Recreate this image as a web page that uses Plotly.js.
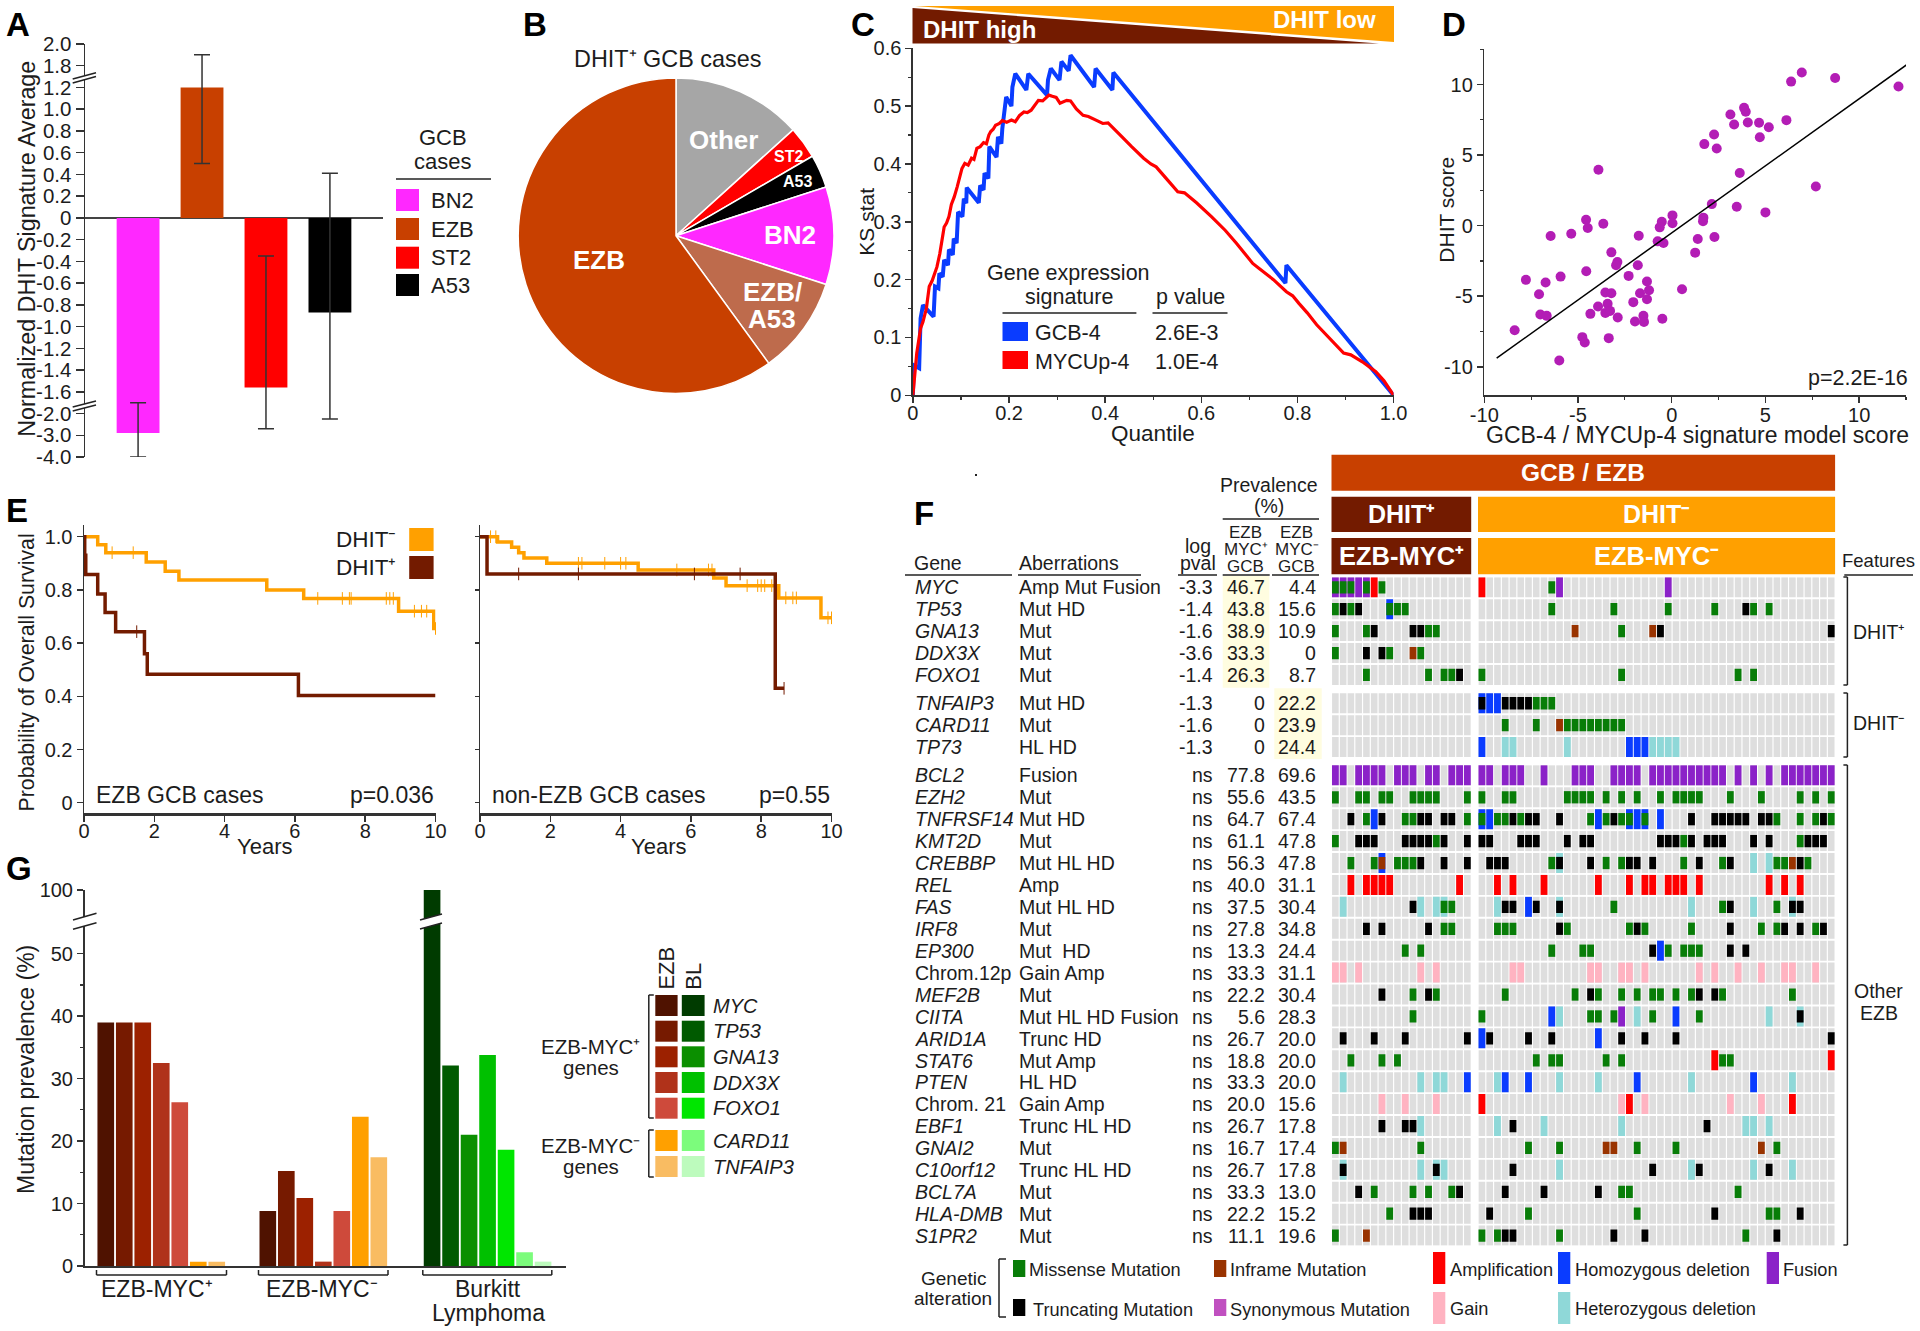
<!DOCTYPE html>
<html>
<head>
<meta charset="utf-8">
<script src="https://cdn.plot.ly/plotly-3.0.1.min.js"></script>
<style>html,body{margin:0;padding:0;background:#fff}</style>
</head>
<body>
<div id="plot" style="width:1920px;height:1331px"></div>
<script>
var W = 1920, H = 1331;
var FONT = '"Liberation Sans", Arial, sans-serif';
var INK = '#1c1c1c', BROWN = '#731b00', ORANGE = '#ffa000';
var SUP_PLUS = '\u207a', SUP_MINUS = '\u207b';

// panel A
var aCases = ['BN2', 'EZB', 'ST2', 'A53'];
var aColors = ['#ff28ff', '#c84000', '#ff0000', '#000000'];
var aValues = [-2.9, 1.2, -1.56, -0.87];
var aErrHigh = [-1.8, 1.9, -0.35, 0.41];
var aErrLow = [-4.0, 0.5, -2.7, -2.25];
var aTicks = [2, 1.8, 1.2, 1, 0.8, 0.6, 0.4, 0.2, 0, -0.2, -0.4, -0.6, -0.8, -1, -1.2, -1.4, -1.6, -2, -3, -4];
var aTickText = ['2.0', '1.8', '1.2', '1.0', '0.8', '0.6', '0.4', '0.2', '0', '-0.2', '-0.4', '-0.6', '-0.8', '-1.0', '-1.2', '-1.4', '-1.6', '-2.0', '-3.0', '-4.0'];

// panel B
var pieLabels = ['Other', 'ST2', 'A53', 'BN2', 'EZB/A53', 'EZB'];
var pieValues = [13.3, 3.3, 3.4, 10, 10, 60];
var pieColors = ['#a6a6a6', '#ff0000', '#000000', '#ff28ff', '#be6b4c', '#c84000'];

// panel C
var gcbX = [0, 0.002, 0.013, 0.016, 0.021, 0.043, 0.046, 0.053, 0.055, 0.062, 0.065, 0.073, 0.075, 0.083, 0.085, 0.091, 0.094, 0.103, 0.106, 0.111, 0.112, 0.137, 0.14, 0.147, 0.149, 0.157, 0.159, 0.174, 0.177, 0.184, 0.186, 0.192, 0.194, 0.205, 0.207, 0.213, 0.236, 0.24, 0.279, 0.281, 0.287, 0.305, 0.309, 0.324, 0.328, 0.377, 0.38, 0.415, 0.417, 0.775, 0.777, 1];
var gcbY = [0, 0.052, 0.047, 0.133, 0.156, 0.136, 0.188, 0.185, 0.211, 0.205, 0.234, 0.225, 0.252, 0.243, 0.271, 0.263, 0.317, 0.309, 0.34, 0.332, 0.359, 0.333, 0.363, 0.355, 0.384, 0.375, 0.43, 0.412, 0.447, 0.435, 0.461, 0.499, 0.516, 0.5, 0.533, 0.556, 0.528, 0.556, 0.519, 0.545, 0.565, 0.545, 0.577, 0.561, 0.588, 0.533, 0.565, 0.528, 0.558, 0.194, 0.225, 0];
var mycX = [0, 0.008, 0.016, 0.021, 0.028, 0.034, 0.04, 0.045, 0.05, 0.056, 0.06, 0.065, 0.07, 0.075, 0.08, 0.086, 0.092, 0.097, 0.102, 0.108, 0.115, 0.122, 0.127, 0.133, 0.14, 0.147, 0.153, 0.158, 0.162, 0.167, 0.172, 0.18, 0.186, 0.195, 0.205, 0.213, 0.222, 0.231, 0.238, 0.246, 0.254, 0.261, 0.27, 0.283, 0.29, 0.298, 0.306, 0.313, 0.32, 0.328, 0.34, 0.354, 0.365, 0.383, 0.395, 0.406, 0.42, 0.435, 0.455, 0.48, 0.495, 0.506, 0.53, 0.551, 0.565, 0.59, 0.621, 0.65, 0.673, 0.69, 0.707, 0.721, 0.75, 0.777, 0.79, 0.803, 0.82, 0.84, 0.87, 0.896, 0.911, 0.935, 0.963, 0.98, 1];
var mycY = [0, 0.073, 0.116, 0.127, 0.15, 0.188, 0.198, 0.211, 0.222, 0.245, 0.27, 0.291, 0.298, 0.309, 0.33, 0.343, 0.36, 0.378, 0.392, 0.401, 0.398, 0.41, 0.408, 0.427, 0.43, 0.437, 0.435, 0.45, 0.456, 0.46, 0.467, 0.47, 0.475, 0.472, 0.476, 0.473, 0.484, 0.49, 0.489, 0.493, 0.503, 0.51, 0.509, 0.519, 0.517, 0.515, 0.505, 0.507, 0.51, 0.509, 0.495, 0.484, 0.482, 0.475, 0.47, 0.471, 0.46, 0.447, 0.43, 0.41, 0.4, 0.395, 0.372, 0.352, 0.35, 0.333, 0.309, 0.285, 0.263, 0.245, 0.228, 0.219, 0.2, 0.179, 0.172, 0.159, 0.143, 0.122, 0.095, 0.073, 0.07, 0.058, 0.041, 0.025, 0];

// panel D
var dhitModel = [12.1, 8.72, 6.94, 6.37, 6.12, 5.18, 4.7, 4.66, 4.06, 3.95, 3.86, 3.33, 3.13, 2.26, 2.4, 1.74, 7.69, 3.63, 3.47, 5, 2.14, 1.69, 1.67, 2.28, 1.39, 1.25, 0.04, 0.04, -0.53, -0.64, -0.75, -0.44, -1.76, 0.55, -0.5, -1.32, -1.21, -1.32, -1.69, -2.05, -1.81, -2.3, -1.51, -1.48, -1.96, -2.88, -3.22, -2.9, -2.97, -3.65, -3.91, -4.48, -4.57, -5.36, -6.46, -4.56, -5.93, -7.78, -6.73, -7.08, -7.01, -6.67, -8.38, -3.54, -3.22, -3.42, -3.93, -3.54, -3.29, -4.34, -4.77, -4.64, -3.36, -6];
var dhitScore = [9.86, 10.47, 10.85, 10.21, 7.48, 6.98, 6.27, 7.29, 7.31, 8.07, 8.35, 7.17, 7.88, 6.46, 5.47, 5.78, 2.78, 3.73, 1.34, 0.94, 1.53, 0.57, 0.31, -0.8, -0.94, -1.91, 0.73, 0.17, 0.28, -0.12, -1.11, -1.23, -0.71, -4.5, -6.6, -3.96, -4.58, -5.21, -4.79, -5.42, -2.81, -3.56, -6.39, -6.82, -6.79, -6.51, -1.89, -2.57, -2.81, 0.14, 3.96, -0.17, 0.42, -0.57, -0.73, -3.23, -3.61, -3.84, -4.03, -4.86, -6.3, -6.39, -7.41, -4.74, -4.79, -5.54, -5.73, -6.18, -6.04, -6.25, -7.9, -8.28, -7.97, -9.55];
var fitX = [-9.34, 12.94];
var fitY = [-9.39, 11.79];

// panel E
var ezbNegT = [0, 0.39, 0.62, 1.77, 2.31, 2.7, 5.2, 6.25, 8.95, 9.95, 10];
var ezbNegS = [1, 0.97, 0.94, 0.905, 0.87, 0.837, 0.8, 0.768, 0.72, 0.655, 0.655];
var ezbNegCensT = [0.8, 1.4, 6.65, 7.35, 7.55, 7.6, 8.6, 8.7, 8.8, 9.4, 9.6, 9.75, 10];
var ezbNegCensS = [0.94, 0.94, 0.768, 0.768, 0.768, 0.768, 0.768, 0.768, 0.768, 0.72, 0.72, 0.72, 0.655];
var ezbPosT = [0, 0.02, 0.05, 0.39, 0.6, 0.9, 1.72, 1.75, 1.8, 6.1, 10];
var ezbPosS = [1, 0.93, 0.858, 0.785, 0.715, 0.643, 0.56, 0.56, 0.483, 0.403, 0.403];
var ezbPosCensT = [1.5];
var ezbPosCensS = [0.643];
var nonNegT = [0, 0.5, 0.9, 1.1, 1.25, 1.9, 4.5, 6.65, 7, 8.5, 9.7, 10];
var nonNegS = [1, 0.98, 0.96, 0.94, 0.92, 0.9, 0.875, 0.845, 0.816, 0.77, 0.695, 0.695];
var nonNegCensT = [0.3, 0.45, 2.8, 2.9, 3.55, 4, 4.15, 5.6, 6.5, 6.6, 7.6, 7.9, 8, 8.1, 8.3, 8.7, 8.9, 9, 9.9, 10];
var nonNegCensS = [1, 1, 0.9, 0.9, 0.9, 0.9, 0.9, 0.875, 0.875, 0.875, 0.816, 0.816, 0.816, 0.816, 0.816, 0.77, 0.77, 0.77, 0.695, 0.695];
var nonPosT = [0, 0.2, 8.4, 8.65];
var nonPosS = [1, 0.86, 0.43, 0.43];
var nonPosCensT = [1.1, 2.8, 6.1, 7.4, 8.65];
var nonPosCensS = [0.86, 0.86, 0.86, 0.86, 0.43];

// panel G
var gGenes = ['MYC', 'TP53', 'GNA13', 'DDX3X', 'FOXO1', 'CARD11', 'TNFAIP3'];
var gEzbColors = ['#4f1200', '#761a00', '#9c2100', '#b0321a', '#ce4a3b', '#ffa000', '#f9bc62'];
var gBlColors = ['#003b00', '#005a00', '#0b8f00', '#00c000', '#00e600', '#7cfc7c', '#bdfbbd'];
var gMycPlus = [39, 39, 39, 32.5, 26.2, 0.7, 0.7];
var gMycMinus = [8.8, 15.2, 10.9, 0.7, 8.8, 23.9, 17.4];
var gBurkitt = [100, 32.1, 21, 33.8, 18.6, 2.2, 0.7];

// panel F table
var genes = ['MYC', 'TP53', 'GNA13', 'DDX3X', 'FOXO1', 'TNFAIP3', 'CARD11', 'TP73', 'BCL2', 'EZH2', 'TNFRSF14', 'KMT2D', 'CREBBP', 'REL', 'FAS', 'IRF8', 'EP300', 'Chrom.12p', 'MEF2B', 'CIITA', 'ARID1A', 'STAT6', 'PTEN', 'Chrom. 21', 'EBF1', 'GNAI2', 'C10orf12', 'BCL7A', 'HLA-DMB', 'S1PR2'];
var aberrations = ['Amp Mut Fusion', 'Mut HD', 'Mut', 'Mut', 'Mut', 'Mut HD', 'Mut', 'HL HD', 'Fusion', 'Mut', 'Mut HD', 'Mut', 'Mut HL HD', 'Amp', 'Mut HL HD', 'Mut', 'Mut\u00a0 HD', 'Gain Amp', 'Mut', 'Mut HL HD Fusion', 'Trunc HD', 'Mut Amp', 'HL HD', 'Gain Amp', 'Trunc HL HD', 'Mut', 'Trunc HL HD', 'Mut', 'Mut', 'Mut'];
var logPval = ['-3.3', '-1.4', '-1.6', '-3.6', '-1.4', '-1.3', '-1.6', '-1.3', 'ns', 'ns', 'ns', 'ns', 'ns', 'ns', 'ns', 'ns', 'ns', 'ns', 'ns', 'ns', 'ns', 'ns', 'ns', 'ns', 'ns', 'ns', 'ns', 'ns', 'ns', 'ns'];
var prevPlus = ['46.7', '43.8', '38.9', '33.3', '26.3', '0', '0', '0', '77.8', '55.6', '64.7', '61.1', '56.3', '40.0', '37.5', '27.8', '13.3', '33.3', '22.2', '5.6', '26.7', '18.8', '33.3', '20.0', '26.7', '16.7', '26.7', '33.3', '22.2', '11.1'];
var prevMinus = ['4.4', '15.6', '10.9', '0', '8.7', '22.2', '23.9', '24.4', '69.6', '43.5', '67.4', '47.8', '47.8', '31.1', '30.4', '34.8', '24.4', '31.1', '30.4', '28.3', '20.0', '20.0', '20.0', '15.6', '17.8', '17.4', '17.8', '13.0', '15.2', '19.6'];

// oncoprint calls: letter = alteration type, numbers = patient columns of that group
var callsMycPlus = ['F0-4 m0-2,4 A5 m6', 'm0,2,7-9 t1,3 H7', 'm0,4,12,13 t5,10,11', 'm0,7,11 t4,6 i10', 'm4,12,14,15 t16', '', '', '', 'F0,1,3-6,8-10,12,13,15-17', 'm0,3,4,6,7,10-13,17', 't2,6,11,12,14,15 m4,9,10,17 H5', 'm0,13 t3-5,9-12,14,17', 'm2,5,8-10 H6 i6 t11,14,17', 'A2,4-7,16', 'L1,11,13,14 t10 m14,15', 't4,6,12 m14,15', 'm9,11', 'G0,1,3,11,13', 't6,12 m10,13', 'm10', 't1,5,9,17', 'm2,6,8', 'L1,11,13,14 H17', 'G6,9,13', 't6,9,10 L11', 'm0,11 i1', 'L1,11,13,14 t1,13', 't3,16 m5,10,12,15', 'm7 t10-12', 'm0 i4'];
var callsMycMinus = ['A0 m9 F10,24', 'm9,17,24,30,35,37 t34', 'i12,22 m18 t23,45', '', 'm0,18,33,35', 'H0-2 t0,3-6 m7-9', 'm3,7,11-18 i10', 'H0,19-21 L3,4,11,22-25', 'F0,1,3-5,8,12-14,17-20,22-31,33,35,37,39-45', 'm0,3,4,11-14,16,18,20,23,25-28,32,36,41,43,45', 'H0,1,15,19,20,21,23 m0,2,3,5,14,16,18,19,21,38,41,43,45 t4,6,7,10,17,27,30-34,36,37,44', 't0,1,5-7,11,13,14,23-25,27,29-31,35,37,42-44 m26,41', 't1-3,10,14,19,20,22,28,32,41 m9,16,18,26,31,38,39,42 L10,35,37 i40', 'A2,4,8,15,19,21,22,24-26,28,37,39,41', 'L2,10,27,35,40 t3,4,7,10,32,40,41 H6 m17,31,38', 'm2-4,11,19,21,27,36,38,43 t10,20,32,39,41,44', 'm9,13,14,24,26-28 t22,32,34 H23', 'G4,5,14,15,18,19,21,28,30,33,36,39,40,43', 'm3,12,15,18,20,22,23,25,27,31,40 t14,28,30', 'm0,14,15,17,22,28 H9,25 L10,20,37,41 F18 t41', 'H0,15 t1,6,9,18,21,25,45', 'm7,9,10,16,18,31,32 A30,45', 'L2,10,15,27,40 H3,6,20,35', 'A0,19,40 G18,21,32,36', 'L2,8,18,34,35,37 t4,29', 'm6,10,20,25,38 i16,17,36', 't4,22,28,37 L10,27,35,40', 't3,8,15 m18,19,33', 't1,30,41 m6,20,37,38', 'm0,2,10,34 t3,4,17,21,38'];
var altNames = {m: 'Missense Mutation', i: 'Inframe Mutation', t: 'Truncating Mutation', s: 'Synonymous Mutation', A: 'Amplification', G: 'Gain', H: 'Homozygous deletion', L: 'Heterozygous deletion', F: 'Fusion'};
var altColors = {m: '#087d08', i: '#993300', t: '#000000', s: '#c050c0', A: '#ff0000', G: '#ffb3c1', H: '#0a3cff', L: '#8fd8d8', F: '#8b22c8'};

// helpers
function px(x) { return x / W; }
function py(y) { return 1 - y / H; }
function dx(a, b) { return [a / W, b / W]; }
function dy(top, bottom) { return [1 - bottom / H, 1 - top / H]; }

var annotations = [], shapes = [];
function note(x, y, text, size, anchor, extra) {
    annotations.push(Object.assign({
        xref: 'paper', yref: 'paper', x: px(x), y: py(y), text: text, showarrow: false,
        xanchor: anchor || 'center', yanchor: 'middle', borderpad: 0,
        font: {family: FONT, size: size || 20, color: INK}
    }, extra || {}));
}
function white(x, y, text, size, anchor) {
    note(x, y, '<b>' + text + '</b>', size, anchor, {font: {family: FONT, size: size, color: '#fff'}});
}
function rect(x0, y0, x1, y1, color, layer) {
    shapes.push({type: 'rect', xref: 'paper', yref: 'paper', x0: px(x0), x1: px(x1), y0: py(y0), y1: py(y1),
        fillcolor: color, line: {width: 0}, layer: layer || 'above'});
}
function seg(x0, y0, x1, y1, color, width) {
    shapes.push({type: 'line', xref: 'paper', yref: 'paper', x0: px(x0), x1: px(x1), y0: py(y0), y1: py(y1),
        line: {color: color || '#222', width: width || 1.5}, layer: 'above'});
}
function poly(points, color) {
    var path = points.map(function(p, i) { return (i ? 'L' : 'M') + px(p[0]) + ',' + py(p[1]); }).join(' ') + ' Z';
    shapes.push({type: 'path', xref: 'paper', yref: 'paper', path: path, fillcolor: color, line: {width: 0}, layer: 'above'});
}
function bracket(x, y0, y1, tick) {
    seg(x, y0, x, y1);
    seg(x, y0, x + tick, y0);
    seg(x, y1, x + tick, y1);
}
// white gap with two slanted strokes, used for the broken axes and the broken bar
function axisBreak(x0, x1, upper0, upper1, lower0, lower1) {
    poly([[x0, upper0], [x1, upper1], [x1, lower1], [x0, lower0]], '#ffffff');
    seg(x0, upper0, x1, upper1, '#222', 1.5);
    seg(x0, lower0, x1, lower1, '#222', 1.5);
}
function axis(domain, extra) {
    return Object.assign({
        domain: domain, showgrid: false, zeroline: false, showline: true, linecolor: '#333', linewidth: 1.5,
        ticks: 'outside', tickcolor: '#333', tickwidth: 1.5, ticklen: 6, tickmode: 'array',
        tickfont: {family: FONT, size: 20, color: INK}
    }, extra);
}
function minorTicks(vals, len) {
    return {tickmode: 'array', tickvals: vals, ticks: 'outside', ticklen: len || 3, tickcolor: '#333', tickwidth: 1.2};
}

// piecewise scale for panel A's broken axis
function scaleA(v) {
    if (v >= 1.8) return v - 0.4;
    if (v >= 1.2) return 1.2 + (v - 1.2) / 3;
    if (v >= -1.6) return v;
    if (v >= -2) return -1.6 + (v + 1.6) * 0.5;
    return -1.8 + (v + 2) * 0.2;
}
// panel G's broken axis
function scaleG(v) { return v <= 55 ? v : 55 + (v - 55) * 0.1156; }

var traces = [];

// A
traces.push({
    type: 'bar', xaxis: 'x', yaxis: 'y', x: [0, 1, 2, 3], y: aValues.map(scaleA), width: 0.67, text: aCases, textposition: 'none',
    marker: {color: aColors},
    error_y: {
        type: 'data', symmetric: false, thickness: 1.5, width: 8, color: '#333',
        array: aErrHigh.map(function(v, i) { return scaleA(v) - scaleA(aValues[i]); }),
        arrayminus: aErrLow.map(function(v, i) { return scaleA(aValues[i]) - scaleA(v); })
    }
});

// B
var pieCx = 676, pieCy = 235.7, pieR = 157.8;
traces.push({
    type: 'pie', labels: pieLabels, values: pieValues, sort: false, direction: 'clockwise', rotation: 0,
    textinfo: 'none', marker: {colors: pieColors, line: {color: '#fff', width: 1.5}},
    domain: {x: dx(pieCx - pieR, pieCx + pieR), y: dy(pieCy - pieR, pieCy + pieR)}
});

// C
traces.push({type: 'scatter', mode: 'lines', xaxis: 'x2', yaxis: 'y2', x: gcbX, y: gcbY, line: {color: '#0a3cff', width: 4}, cliponaxis: false});
traces.push({type: 'scatter', mode: 'lines', xaxis: 'x2', yaxis: 'y2', x: mycX, y: mycY, line: {color: '#ff0000', width: 3.2}, cliponaxis: false});

// D
traces.push({type: 'scatter', mode: 'markers', xaxis: 'x3', yaxis: 'y3', x: dhitModel, y: dhitScore, marker: {color: '#b31db5', size: 10}});
traces.push({type: 'scatter', mode: 'lines', xaxis: 'x3', yaxis: 'y3', x: fitX, y: fitY, line: {color: '#000', width: 1.5}});

// E
function survival(xa, ya, t, s, ct, cs, color) {
    traces.push({type: 'scatter', mode: 'lines', xaxis: xa, yaxis: ya, x: t, y: s, line: {color: color, width: 3.5, shape: 'hv'}, cliponaxis: false});
    traces.push({type: 'scatter', mode: 'markers', xaxis: xa, yaxis: ya, x: ct, y: cs, cliponaxis: false,
        marker: {symbol: 'line-ns', size: 9, color: color, line: {color: color, width: 1}}});
}
survival('x4', 'y4', ezbNegT, ezbNegS, ezbNegCensT, ezbNegCensS, ORANGE);
survival('x4', 'y4', ezbPosT, ezbPosS, ezbPosCensT, ezbPosCensS, BROWN);
survival('x5', 'y5', nonNegT, nonNegS, nonNegCensT, nonNegCensS, ORANGE);
survival('x5', 'y5', nonPosT, nonPosS, nonPosCensT, nonPosCensS, BROWN);

// G
var gGroups = [gMycPlus, gMycMinus, gBurkitt];
var gOffsets = [0, 8.76, 17.64];
var gX = [], gY = [], gC = [];
gGroups.forEach(function(group, g) {
    group.forEach(function(v, j) {
        gX.push(gOffsets[g] + j);
        gY.push(scaleG(v));
        gC.push(g === 2 ? gBlColors[j] : gEzbColors[j]);
    });
});
traces.push({type: 'bar', xaxis: 'x6', yaxis: 'y6', x: gX, y: gY, width: 0.9, marker: {color: gC}});

// F oncoprint, each cell a bar with its own base
var ROW_STEP = 21.93, ROW_TOP = 587.3;
function rowPos(i) { return i < 5 ? i : (i < 8 ? i + 0.29 : i + 0.58); }
function rowCenter(i) { return ROW_TOP + rowPos(i) * ROW_STEP; }
function parseCalls(spec, offset) {
    var out = [];
    spec.split(' ').forEach(function(tok) {
        if (!tok) return;
        var kind = tok[0];
        tok.slice(1).split(',').forEach(function(part) {
            var ends = part.split('-').map(Number);
            for (var c = ends[0]; c <= ends[ends.length - 1]; c++) out.push({kind: kind, col: c + offset});
        });
    });
    return out;
}
var RIGHT_OFFSET = 18.88;
var grayX = [], grayBase = [], grayH = [];
genes.forEach(function(g, i) {
    for (var c = 0; c < 64; c++) {
        grayX.push((c < 18 ? c : RIGHT_OFFSET + c - 18) + 0.5);
        grayBase.push(rowPos(i) - 0.456);
        grayH.push(0.912);
    }
});
traces.push({type: 'bar', xaxis: 'x7', yaxis: 'y7', x: grayX, y: grayH, base: grayBase, width: 0.85, marker: {color: '#dedede'}, hoverinfo: 'skip'});
var altOrder = ['F', 'A', 'G', 'L', 'H', 'm', 'i', 's', 't'];
altOrder.forEach(function(kind) {
    var tall = 'FAGLH'.indexOf(kind) >= 0;
    var hh = tall ? 0.912 : 0.56;
    var xs = [], bases = [], hs = [];
    genes.forEach(function(g, i) {
        parseCalls(callsMycPlus[i], 0).concat(parseCalls(callsMycMinus[i], RIGHT_OFFSET)).forEach(function(call) {
            if (call.kind !== kind) return;
            xs.push(call.col + 0.5);
            bases.push(rowPos(i) - hh / 2);
            hs.push(hh);
        });
    });
    traces.push({type: 'bar', name: altNames[kind], xaxis: 'x7', yaxis: 'y7', x: xs, y: hs, base: bases, width: 0.88, marker: {color: altColors[kind]}});
});

// panel letters
[['A', 5, 25], ['B', 522, 25], ['C', 850, 25], ['D', 1441, 25], ['E', 5, 511], ['F', 913, 513], ['G', 5, 868]].forEach(function(l) {
    note(l[1], l[2], '<b>' + l[0] + '</b>', 33, 'left', {font: {family: FONT, size: 33, color: '#000'}});
});

// A text
note(26.7, 249, 'Normalized DHIT Signature Average', 23.3, 'center', {textangle: -90});
note(442.7, 138, 'GCB', 22);
note(442.7, 161, 'cases', 22);
seg(396, 179, 491, 179, '#222', 1.5);
var aLegendY = [189, 218, 246.7, 274];
aCases.forEach(function(c, i) {
    rect(396, aLegendY[i], 419, aLegendY[i] + 22, aColors[i]);
    note(430, aLegendY[i] + 11, c, 22, 'left');
});
axisBreak(72.7, 96, 79, 72.7, 83, 76.5);
axisBreak(72.7, 96, 407, 401, 411, 405);

// B text
note(667, 59, 'DHIT' + SUP_PLUS + ' GCB cases', 23.4);
white(723, 140, 'Other', 26);
white(788, 156, 'ST2', 16);
white(797, 182, 'A53', 16);
white(790, 235, 'BN2', 26);
white(772, 292, 'EZB/', 26);
white(772, 319, 'A53', 26);
white(599, 260, 'EZB', 26);

// C text
poly([[915, 6], [1394, 6], [1394, 42]], ORANGE);
poly([[912.5, 8], [1379, 43.5], [912.5, 43.5]], BROWN);
white(922, 30, 'DHIT high', 24, 'left');
white(1377, 20, 'DHIT low', 24, 'right');
note(865.7, 222, 'KS stat', 21, 'center', {textangle: -90});
note(1153, 434, 'Quantile', 22.5);
note(1068.6, 273, 'Gene expression', 21.5);
note(1068.6, 297, 'signature', 21.5);
note(1190, 297, 'p value', 21.5);
seg(1002.5, 313, 1136.4, 313);
seg(1152.5, 313, 1227.5, 313);
rect(1002.5, 322, 1028, 341, '#0a3cff');
rect(1002.5, 351, 1028, 369, '#ff0000');
note(1034, 333, 'GCB-4', 21.5, 'left');
note(1034, 362, 'MYCUp-4', 21.5, 'left');
note(1154, 333, '2.6E-3', 21.5, 'left');
note(1154, 362, '1.0E-4', 21.5, 'left');

// D text
note(1446.7, 210, 'DHIT score', 21, 'center', {textangle: -90});
note(1697.7, 435, 'GCB-4 / MYCUp-4 signature model score', 23);
note(1909, 378, 'p=2.2E-16', 21.5, 'right');

// E text
note(26, 672.5, 'Probability of Overall Survival', 21.3, 'center', {textangle: -90});
note(398, 540, 'DHIT' + SUP_MINUS, 22.5, 'right');
note(398, 567, 'DHIT' + SUP_PLUS, 22.5, 'right');
rect(409.2, 528, 433.6, 551, ORANGE);
rect(409.2, 556, 433.6, 579, BROWN);
note(94.8, 795, 'EZB GCB cases', 23, 'left');
note(435, 795, 'p=0.036', 23, 'right');
note(490.5, 795, 'non-EZB GCB cases', 23, 'left');
note(831, 795, 'p=0.55', 23, 'right');
note(264, 846, 'Years', 22);
note(658.5, 846, 'Years', 22);

// G text
note(26, 1070, 'Mutation prevalence (%)', 23, 'center', {textangle: -90});
axisBreak(73, 96.5, 920, 913.3, 929.3, 922.7);
axisBreak(420, 442, 920, 914, 929, 923);
[[96.5, 226.5], [258.5, 388], [422.8, 551.8]].forEach(function(b) {
    seg(b[0], 1275, b[1], 1275);
    seg(b[0], 1270, b[0], 1275);
    seg(b[1], 1270, b[1], 1275);
});
note(157, 1289, 'EZB-MYC' + SUP_PLUS, 23);
note(322, 1289, 'EZB-MYC' + SUP_MINUS, 23);
note(488, 1289, 'Burkitt', 23);
note(488, 1313, 'Lymphoma', 23);
note(665.6, 968, 'EZB', 22, 'center', {textangle: -90});
note(692.7, 976, 'BL', 22, 'center', {textangle: -90});
var gLegendY = [995, 1020.7, 1046.3, 1072, 1097.7, 1130, 1156];
gGenes.forEach(function(g, i) {
    rect(655.3, gLegendY[i], 677.6, gLegendY[i] + 21, gEzbColors[i]);
    rect(681.8, gLegendY[i], 704.6, gLegendY[i] + 21, gBlColors[i]);
    note(711.6, gLegendY[i] + 10.5, '<i>' + g + '</i>', 20, 'left');
});
bracket(648.8, 995, 1118, 5);
bracket(648.8, 1130, 1177, 5);
note(590.8, 1046, 'EZB-MYC' + SUP_PLUS, 20.5);
note(590.8, 1067, 'genes', 20.5);
note(590.8, 1145, 'EZB-MYC' + SUP_MINUS, 20.5);
note(590.8, 1166, 'genes', 20.5);

// F headers and table
rect(975, 474, 977, 476, '#222');
rect(1331.5, 454.7, 1835.1, 490.7, '#c84000');
rect(1331.5, 496.7, 1471.2, 532, BROWN);
rect(1478, 496.7, 1835.1, 532, ORANGE);
rect(1331.5, 538, 1471.2, 574.3, BROWN);
rect(1478, 538, 1835.1, 574.3, ORANGE);
white(1583, 473, 'GCB / EZB', 24.5);
white(1401, 514, 'DHIT' + SUP_PLUS, 25);
white(1656, 514, 'DHIT' + SUP_MINUS, 25);
white(1401, 556, 'EZB-MYC' + SUP_PLUS, 25.5);
white(1656, 556, 'EZB-MYC' + SUP_MINUS, 25.5);
rect(1222.7, 576, 1269.3, 687.7, '#fffde0', 'below');
rect(1274.3, 688.3, 1321.7, 759, '#fffde0', 'below');
note(913, 562.7, 'Gene', 19.5, 'left');
note(1018, 562.7, 'Aberrations', 19.5, 'left');
note(1198, 546, 'log', 19.5);
note(1198, 563, 'pval', 19.5);
note(1269, 485, 'Prevalence', 19.5);
note(1269, 506, '(%)', 19.5);
note(1245.7, 532.7, 'EZB', 17);
note(1245.7, 549, 'MYC' + SUP_PLUS, 17);
note(1245.7, 566, 'GCB', 17);
note(1296.7, 532.7, 'EZB', 17);
note(1296.7, 549, 'MYC' + SUP_MINUS, 17);
note(1296.7, 566, 'GCB', 17);
seg(1222.7, 519, 1319, 519);
seg(905, 575, 1012, 575);
seg(1018, 575, 1141, 575);
seg(1178, 575, 1217, 575);
seg(1222.7, 575, 1269.7, 575);
seg(1272, 575, 1319, 575);
genes.forEach(function(g, i) {
    var y = rowCenter(i);
    note(913.5, y, g.indexOf('Chrom') === 0 ? g : '<i>' + g + '</i>', 19.5, 'left');
    note(1018, y, aberrations[i], 19.5, 'left');
    note(1214, y, logPval[i], 19.5, 'right');
    note(1266, y, prevPlus[i], 19.5, 'right');
    note(1316.7, y, prevMinus[i], 19.5, 'right');
});
note(1878, 561, 'Features', 18.5);
seg(1844.3, 575, 1913, 575);
function featureBracket(y0, y1) {
    seg(1847.4, y0, 1847.4, y1);
    seg(1843.4, y0, 1847.4, y0);
    seg(1843.4, y1, 1847.4, y1);
}
featureBracket(577, 685);
featureBracket(693, 757);
featureBracket(765, 1245);
note(1852, 632, 'DHIT' + SUP_PLUS, 19.5, 'left');
note(1852, 723, 'DHIT' + SUP_MINUS, 19.5, 'left');
note(1878.7, 991, 'Other', 19.5);
note(1878.7, 1013, 'EZB', 19.5);

// F alteration key
note(953, 1278, 'Genetic', 19);
note(953, 1298, 'alteration', 19);
bracket(999, 1259, 1317, 7);
[['m', 1013, 1260, 1277, 1028, 1270], ['t', 1013, 1299, 1316, 1032, 1310], ['i', 1214, 1260, 1277, 1229, 1270], ['s', 1214, 1299, 1316, 1229, 1310],
 ['A', 1433, 1252, 1284, 1449, 1270], ['G', 1433, 1292, 1324, 1449, 1309], ['H', 1558, 1252, 1284, 1573.7, 1270], ['L', 1558, 1292, 1324, 1573.7, 1309], ['F', 1766.7, 1252, 1284, 1782, 1270]].forEach(function(k) {
    rect(k[1], k[2], k[1] + 12.3, k[3], altColors[k[0]]);
    note(k[4], k[5], altNames[k[0]], 18.2, 'left');
});

var layout = {
    width: W, height: H, margin: {l: 0, r: 0, t: 0, b: 0}, showlegend: false, barmode: 'overlay',
    paper_bgcolor: '#fff', plot_bgcolor: 'rgba(0,0,0,0)', font: {family: FONT, color: INK},
    annotations: annotations, shapes: shapes,

    xaxis: {domain: dx(85, 383), range: [-0.83, 3.83], visible: false, anchor: 'y'},
    yaxis: axis(dy(44, 457), {anchor: 'x', range: [scaleA(-4), scaleA(2)], tickvals: aTicks.map(scaleA), ticktext: aTickText, ticklen: 8,
        zeroline: true, zerolinecolor: '#444', zerolinewidth: 2, tickfont: {family: FONT, size: 20.5, color: INK}}),

    xaxis2: axis(dx(912.9, 1393.6), {anchor: 'y2', range: [0, 1], tickvals: [0, 0.2, 0.4, 0.6, 0.8, 1], ticktext: ['0', '0.2', '0.4', '0.6', '0.8', '1.0'],
        ticklabelstandoff: -7, minor: minorTicks([0.1, 0.3, 0.5, 0.7, 0.9])}),
    yaxis2: axis(dy(48.3, 395.3), {anchor: 'x2', range: [0, 0.6], tickvals: [0, 0.1, 0.2, 0.3, 0.4, 0.5, 0.6], ticktext: ['0', '0.1', '0.2', '0.3', '0.4', '0.5', '0.6'],
        minor: minorTicks([0.05, 0.15, 0.25, 0.35, 0.45, 0.55])}),

    xaxis3: axis(dx(1484.3, 1906), {anchor: 'y3', range: [-10, 12.5], tickvals: [-10, -5, 0, 5, 10], ticktext: ['-10', '-5', '0', '5', '10'],
        ticklabelstandoff: -5, minor: minorTicks([-7.5, -2.5, 2.5, 7.5, 12.5])}),
    yaxis3: axis(dy(49.3, 395), {anchor: 'x3', range: [-12, 12.5], tickvals: [-10, -5, 0, 5, 10], ticktext: ['-10', '-5', '0', '5', '10'],
        minor: minorTicks([-7.5, -2.5, 2.5, 7.5, 12.5])}),

    xaxis4: axis(dx(84, 435.5), {anchor: 'y4', range: [0, 10], tickvals: [0, 2, 4, 6, 8, 10], linewidth: 3, ticklabelstandoff: -8}),
    yaxis4: axis(dy(525, 812.7), {anchor: 'x4', range: [-0.0376, 1.044], tickvals: [0, 0.2, 0.4, 0.6, 0.8, 1], ticktext: ['0', '0.2', '0.4', '0.6', '0.8', '1.0']}),
    xaxis5: axis(dx(480, 831.5), {anchor: 'y5', range: [0, 10], tickvals: [0, 2, 4, 6, 8, 10], linewidth: 3, ticklabelstandoff: -8}),
    yaxis5: axis(dy(525, 812.7), {anchor: 'x5', range: [-0.0376, 1.044], tickvals: [0, 0.2, 0.4, 0.6, 0.8, 1], showticklabels: false, ticklen: 4}),

    xaxis6: axis(dx(84.5, 566), {anchor: 'y6', range: [-1.15, 24.88], ticks: '', showticklabels: false, linewidth: 2}),
    yaxis6: axis(dy(890, 1266), {anchor: 'x6', range: [0, scaleG(100)], tickvals: [0, 10, 20, 30, 40, 50, scaleG(100)], ticktext: ['0', '10', '20', '30', '40', '50', '100'],
        minor: minorTicks([5, 15, 25, 35, 45])}),

    xaxis7: {domain: dx(1331.5, 1835.1), range: [0, 64.88], visible: false, anchor: 'y7'},
    yaxis7: {domain: dy(577.3, 1245.7), range: [30.04, -0.456], visible: false, anchor: 'x7'}
};

Plotly.newPlot('plot', traces, layout, {staticPlot: true});
</script>
</body>
</html>
